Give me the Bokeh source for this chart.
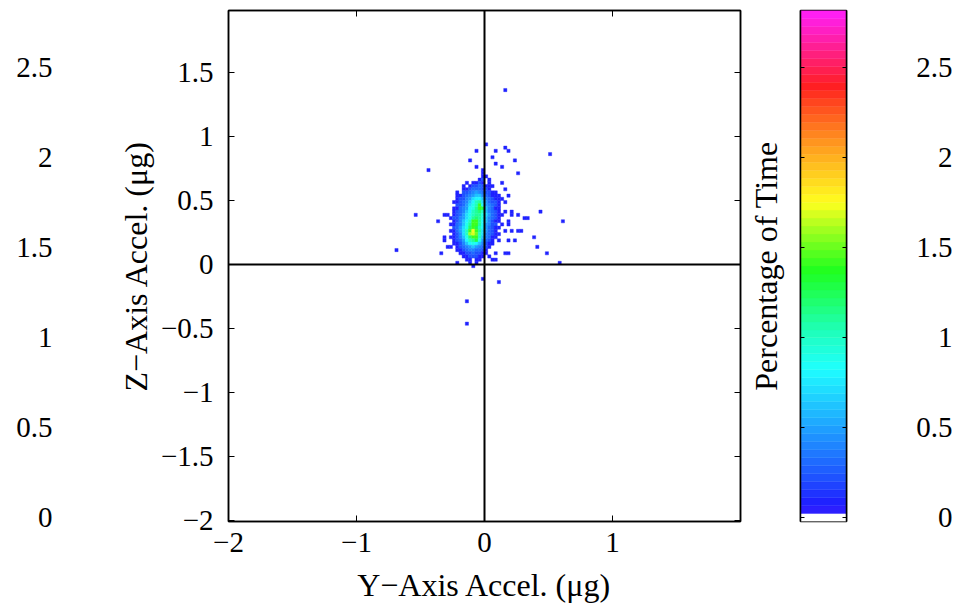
import colorsys
import numpy as np
from bokeh.plotting import figure
from bokeh.layouts import row
from bokeh.models import (Range1d, LinearAxis, FixedTicker, CustomJSTickFormatter,
                          Span, ColumnDataSource, CustomLabelingPolicy)
from bokeh.embed import file_html
from bokeh.resources import INLINE

# ---------------- data ----------------
BIN = 0.025                      # histogram bin width (ug)
core_y_first = -0.325            # left edge of first column of core block (Y accel)
core_z_top = 0.775               # bottom edge of first (top) row of core block (Z accel)
# percentage of time per bin, rows from top (Z=0.775) down to Z=-0.025, columns Y=-0.325 .. 0.150
core_pct = [
    [0, 0, 0, 0, 0, 0, 0, 0, 0, 0, 0, 0, 0, 0, 0, 0, .1, 0, 0, 0],
    [0, 0, 0, 0, 0, 0, 0, 0, 0, 0, .1, 0, 0, 0, 0, 0, 0, 0, .1, 0],
    [0, 0, 0, 0, 0, 0, 0, 0, 0, 0, 0, 0, .1, 0, 0, 0, 0, 0, 0, 0],
    [0, 0, 0, 0, 0, 0, 0, 0, 0, 0, 0, 0, .1, 0, 0, 0, 0, 0, 0, 0],
    [0, 0, 0, 0, 0, 0, 0, 0, 0, 0, 0, 0, .1, .1, 0, 0, 0, 0, 0, 0],
    [0, 0, 0, 0, 0, 0, 0, 0, 0, 0, 0, .1, .2, 0, .1, 0, 0, 0, 0, 0],
    [0, 0, 0, 0, 0, 0, 0, .1, 0, .1, .1, .2, .1, 0, .1, 0, 0, 0, .1, 0],
    [0, 0, 0, 0, 0, 0, .1, 0, .1, .2, .2, .3, .2, .1, .1, .1, 0, 0, 0, 0],
    [0, 0, 0, 0, 0, 0, .1, .1, .2, .3, .3, .3, .2, .2, .1, 0, 0, 0, 0, .1],
    [0, 0, 0, 0, .1, 0, .2, .2, .3, .4, .5, .4, .3, .2, .2, .1, .1, 0, 0, 0],
    [0, 0, 0, 0, .1, .1, .2, .3, .4, .5, .6, .6, .4, .3, .2, .1, .1, .1, 0, 0],
    [0, 0, 0, 0, .1, .2, .2, .4, .5, .7, .8, .8, .6, .4, .3, .2, .1, .1, .1, 0],
    [0, 0, 0, .1, .1, .2, .3, .4, .6, .8, 1.0, 1.1, .7, .5, .3, .2, .2, .1, 0, .1],
    [0, 0, 0, 0, .2, .2, .3, .5, .7, .9, 1.0, 1.4, .8, .5, .4, .3, .2, .1, 0, 0],
    [0, 0, 0, .1, .1, .3, .4, .5, .8, .9, 1.1, 1.4, 1.3, .6, .4, .3, .1, .1, 0, 0],
    [0, 0, 0, .1, .2, .3, .4, .6, .8, 1.0, 1.1, 1.2, 1.0, .6, .4, .3, .2, .1, 0, .1],
    [.1, .1, 0, .1, .2, .3, .5, .7, .9, 1.0, 1.1, 1.1, .9, .7, .5, .3, .2, .1, .1, 0],
    [0, 0, .1, .2, .2, .4, .5, .7, .9, 1.1, 1.2, 1.1, .9, .6, .4, .3, .2, .1, 0, 0],
    [0, 0, 0, .1, .2, .4, .6, .8, 1.0, 1.4, 1.4, 1.1, .8, .6, .4, .2, .1, .1, 0, 0],
    [0, 0, .1, .1, .3, .4, .6, .9, 1.1, 1.4, 1.4, 1.1, .8, .5, .4, .2, .2, 0, .1, 0],
    [0, 0, 0, .2, .3, .5, .7, .9, 1.2, 1.4, 1.3, 1.0, .8, .5, .3, .2, .1, .1, 0, 0],
    [0, 0, .1, .1, .3, .5, .7, 1.0, 1.4, 1.75, 1.4, 1.1, .7, .5, .3, .2, .1, 0, 0, .1],
    [0, 0, 0, .1, .2, .4, .7, 1.0, 1.6, 1.7, 1.5, 1.0, .7, .4, .3, .2, .1, .1, 0, 0],
    [.1, 0, .1, .1, .2, .4, .6, .9, 1.2, 1.4, 1.4, 1.0, .6, .4, .3, .1, .1, 0, 0, 0],
    [.1, 0, 0, .1, .2, .3, .5, .8, 1.0, 1.1, 1.3, .9, .5, .3, .2, .1, 0, .1, 0, 0],
    [0, 0, 0, .1, .1, .2, .4, .6, .8, .9, .8, .6, .4, .2, .1, .1, 0, 0, 0, 0],
    [0, .1, .1, 0, .1, .2, .3, .4, .5, .6, .5, .4, .3, .2, .1, 0, 0, 0, 0, 0],
    [0, 0, 0, 0, .1, .1, .2, .3, .4, .4, .3, .3, .2, .1, 0, 0, 0, 0, 0, 0],
    [0, 0, 0, 0, 0, .1, .1, .2, .2, .3, .2, .2, .1, .1, 0, 0, .1, 0, 0, .1],
    [0, 0, 0, 0, 0, 0, .1, .1, .2, .2, .2, .1, .1, 0, .1, 0, 0, 0, 0, 0],
    [0, 0, 0, 0, 0, 0, 0, .1, .1, 0, .1, .1, 0, 0, 0, .1, .1, 0, 0, 0],
    [0, 0, 0, 0, .1, 0, 0, 0, .1, 0, .1, 0, 0, 0, 0, 0, 0, 0, 0, 0],
    [0, 0, 0, 0, 0, 0, 0, 0, 0, .1, 0, 0, 0, 0, 0, 0, 0, 0, 0, 0],
]
# isolated bins outside the core block (bin lower-left corners, ug) and their percentage
out_y = [0.150, 0.000, -0.075, 0.075, 0.150, 0.175, 0.500, 0.050, -0.125, 0.225,
         -0.450, 0.250, 0.175, 0.200, 0.250, 0.300, 0.325, 0.425, 0.600, -0.550,
         -0.375, 0.175, 0.175, 0.200, 0.375, 0.250, 0.275, 0.200, 0.225, 0.175,
         0.400, 0.475, 0.575, 0.175, -0.350, -0.025, 0.100, -0.150, -0.150, -0.700]
out_z = [1.350, 0.925, 0.875, 0.875, 0.900, 0.875, 0.850, 0.825, 0.800, 0.800,
         0.725, 0.700, 0.525, 0.400, 0.375, 0.350, 0.350, 0.400, 0.325, 0.375,
         0.325, 0.300, 0.325, 0.375, 0.200, 0.250, 0.250, 0.250, 0.175, 0.175,
         0.125, 0.075, 0.000, 0.075, 0.075, -0.125, -0.150, -0.300, -0.475, 0.100]
out_pct = [0.1] * len(out_y)

x_ticks = [-2, -1, 0, 1]
y_ticks = [-2, -1.5, -1, -0.5, 0, 0.5, 1, 1.5]
cb_ticks = [0, 0.5, 1, 1.5, 2, 2.5]
x_label = "Y\u2212Axis Accel. (\u03bcg)"
y_label = "Z\u2212Axis Accel. (\u03bcg)"
cb_label = "Percentage of Time"

# ---------------- colour map ----------------
CMIN, CMAX, NCOL = -0.022, 2.817, 64
hue_val = [0.0, 0.2, 0.5, 0.8, 1.05, 1.37, 1.6, 1.75, 2.05, 2.33, 2.5, 2.82]
hue_deg = [248, 228, 205, 182, 160, 120, 85, 60, 35, 8, -15, -60]
palette = ["#ffffff"]
for i in range(1, NCOL):
    v = CMIN + (i + 0.5) * (CMAX - CMIN) / NCOL
    h = (np.interp(v, hue_val, hue_deg) % 360) / 360.0
    r, g, b = colorsys.hsv_to_rgb(h, 0.88, 1.0)
    palette.append("#%02x%02x%02x" % (round(r * 255), round(g * 255), round(b * 255)))


def color_of(v):
    i = int((v - CMIN) / (CMAX - CMIN) * NCOL)
    return palette[max(1, min(NCOL - 1, i))]


# build bin table
L, R, B, T, C = [], [], [], [], []
for ri, rowvals in enumerate(core_pct):
    zb = core_z_top - ri * BIN
    for ci, v in enumerate(rowvals):
        if v > 0:
            yl = core_y_first + ci * BIN
            L.append(yl); R.append(yl + BIN); B.append(zb); T.append(zb + BIN); C.append(color_of(v))
for yl, zb, v in zip(out_y, out_z, out_pct):
    L.append(yl); R.append(yl + BIN); B.append(zb); T.append(zb + BIN); C.append(color_of(v))
src = ColumnDataSource(dict(left=L, right=R, bottom=B, top=T, color=C))

FONT = "Liberation Serif"
TICK_FS = "29px"
LAB_FS = "32px"
fmt_js = "return tick.toString().replace('-', '\u2212');"
HIDE_JS = "for (const i of Array.from(indices)) { indices.unset(i) }\nreturn indices"


def style_axis(ax, ticks, show_labels=True, tick_in=6):
    ax.ticker = FixedTicker(ticks=ticks)
    ax.formatter = CustomJSTickFormatter(code=fmt_js)
    ax.major_tick_in = tick_in
    ax.major_tick_out = 0
    ax.minor_tick_line_color = None
    ax.major_tick_line_color = "black"
    ax.major_tick_line_width = 1
    ax.axis_line_color = "black"
    ax.axis_line_width = 1.5
    ax.major_label_text_font = FONT
    ax.major_label_text_color = "black"
    ax.major_label_text_font_size = TICK_FS
    ax.axis_label_text_font = FONT
    ax.axis_label_text_font_style = "normal"
    ax.axis_label_text_font_size = LAB_FS
    ax.axis_label_text_color = "black"
    if not show_labels:
        ax.major_label_policy = CustomLabelingPolicy(code=HIDE_JS)
        ax.major_label_text_font_size = "1px"
        ax.major_label_standoff = 0


# ---------------- main plot ----------------
p = figure(width=745, height=609, x_range=Range1d(-2, 2), y_range=Range1d(-2.008, 1.984),
           output_backend="svg", toolbar_location=None,
           min_border_left=228, min_border_right=5, min_border_top=10, min_border_bottom=88)
p.grid.visible = False
p.outline_line_color = "black"
p.outline_line_width = 1.5
p.background_fill_color = "white"
p.border_fill_color = "white"

p.quad(left="left", right="right", bottom="bottom", top="top", source=src,
       fill_color="color", line_color="color", line_width=0.4)
p.add_layout(Span(location=0, dimension="height", line_color="black", line_width=2))
p.add_layout(Span(location=0, dimension="width", line_color="black", line_width=2))

xa = p.below[0]
ya = p.left[0]
style_axis(xa, x_ticks)
style_axis(ya, y_ticks)
xa.axis_label = x_label
ya.axis_label = y_label
xa.major_label_standoff = 11
xa.axis_label_standoff = 12
ya.major_label_standoff = 15
ya.axis_label_standoff = 4

top_ax = LinearAxis()
style_axis(top_ax, x_ticks, show_labels=False)
p.add_layout(top_ax, "above")
right_ax = LinearAxis()
style_axis(right_ax, y_ticks, show_labels=False)
p.add_layout(right_ax, "right")

p.extra_y_ranges = {"pct": Range1d(CMIN, CMAX)}
ph = LinearAxis(y_range_name="pct")
style_axis(ph, cb_ticks)
ph.axis_line_color = None
ph.major_tick_line_color = None
ph.major_tick_in = 0
ph.major_label_standoff = 62
p.add_layout(ph, "left")

# ---------------- colour bar ----------------
step = (CMAX - CMIN) / NCOL
cb_src = ColumnDataSource(dict(bottom=[CMIN + i * step for i in range(NCOL)],
                               top=[CMIN + (i + 1) * step for i in range(NCOL)],
                               color=palette))
p2 = figure(width=155, height=609, x_range=Range1d(0, 1), y_range=Range1d(CMIN, CMAX),
            output_backend="svg", toolbar_location=None,
            min_border_left=51, min_border_right=54, min_border_top=10, min_border_bottom=88)
p2.grid.visible = False
p2.outline_line_color = "black"
p2.outline_line_width = 1.5
p2.quad(left=0, right=1, bottom="bottom", top="top", source=cb_src,
        fill_color="color", line_color="color", line_width=0.4)
p2.xaxis.visible = False
cl = p2.left[0]
style_axis(cl, cb_ticks, show_labels=False, tick_in=4)
cl.axis_label = cb_label
cl.axis_label_standoff = 12
cr = LinearAxis()
style_axis(cr, cb_ticks, show_labels=False, tick_in=4)
p2.add_layout(cr, "right")

# ---------------- colour bar tick labels ----------------
p3 = figure(width=73, height=609, x_range=Range1d(0, 1), y_range=Range1d(CMIN, CMAX),
            output_backend="svg", toolbar_location=None,
            min_border_left=62, min_border_right=0, min_border_top=10, min_border_bottom=88)
p3.grid.visible = False
p3.outline_line_color = None
p3.xaxis.visible = False
la = p3.left[0]
style_axis(la, cb_ticks)
la.axis_line_color = None
la.major_tick_line_color = None
la.major_tick_in = 0
la.major_label_standoff = 10

layout = row(p, p2, p3)
open("out.html", "w").write(file_html(layout, INLINE))
